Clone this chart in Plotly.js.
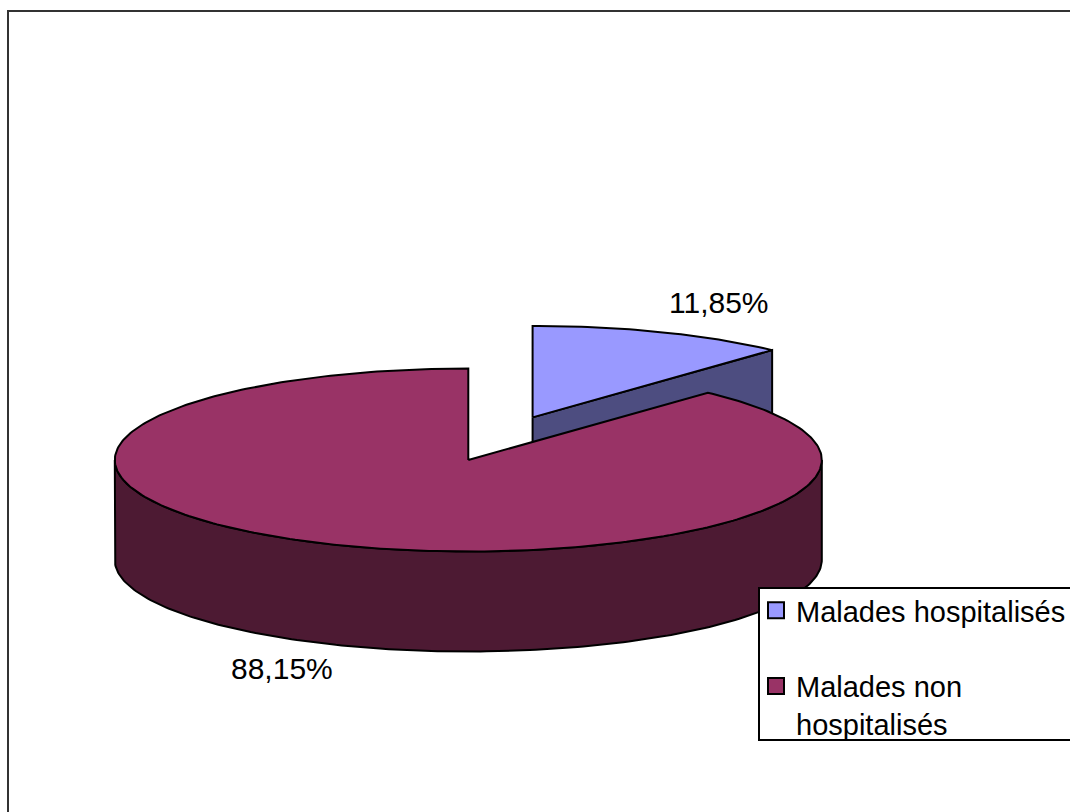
<!DOCTYPE html>
<html>
<head>
<meta charset="utf-8">
<script src="https://cdn.plot.ly/plotly-3.0.1.min.js"></script>
<style>
  html, body { margin: 0; padding: 0; background: #ffffff; }
  #chart { width: 1070px; height: 812px; }
</style>
</head>
<body>
<div id="chart"></div>
<script>
// Share of patients, hospitalised vs not
const categories = ['Malades hospitalisés', 'Malades non hospitalisés'];
const legendNames = ['Malades hospitalisés', 'Malades non<br>hospitalisés'];
const shares = [11.85, 88.15];
const shareLabels = ['11,85%', '88,15%'];

const topColors = ['#9999FF', '#993366'];
const sideColors = ['#4D4D80', '#4D1A33'];
const explode = [0.5, 0];

// Canvas and tilted-pie geometry (pixel units, y grows downward)
const W = 1070, H = 812;
const CX = 468.3, CY = 460, RX = 353.5, RY = 91.5, DEPTH = 100;
const START_ANGLE = 90;           // first slice starts at 12 o'clock, going clockwise
const FONT = 'Liberation Sans, Arial, sans-serif';
const FONT_SIZE = 30;
const LEGEND_FONT_SIZE = 29;

const rad = d => d * Math.PI / 180;

function pt(c, deg, dz) {
  return [c[0] + RX * Math.cos(rad(deg)), c[1] - RY * Math.sin(rad(deg)) + (dz || 0)];
}

function arc(c, a0, a1, dz) {
  const n = Math.max(2, Math.ceil(Math.abs(a1 - a0) / 1.0));
  const pts = [];
  for (let i = 0; i <= n; i++) pts.push(pt(c, a0 + (a1 - a0) * i / n, dz));
  return pts;
}

function polyTrace(pts, fill) {
  return {
    type: 'scatter', mode: 'lines',
    x: pts.map(p => p[0]), y: pts.map(p => p[1]),
    fill: 'toself', fillcolor: fill,
    line: { color: '#000000', width: 2, shape: 'linear' },
    hoverinfo: 'skip', showlegend: false
  };
}

const total = shares.reduce((a, b) => a + b, 0);
let cum = 0;
const slices = shares.map((v, i) => {
  const a0 = START_ANGLE - 360 * cum / total;
  const a1 = START_ANGLE - 360 * (cum + v) / total;
  cum += v;
  const mid = (a0 + a1) / 2;
  const c = [CX + explode[i] * RX * Math.cos(rad(mid)), CY - explode[i] * RY * Math.sin(rad(mid))];
  return { i, a0, a1, mid, c };
});

// paint slices from the back to the front
const order = slices.slice().sort((p, q) => Math.sin(rad(q.mid)) - Math.sin(rad(p.mid)));

const traces = [];
order.forEach(s => {
  const { i, a0, a1, c } = s;
  // radial wall at the end edge of the slice
  if (Math.cos(rad(a1)) > 1e-6) {
    const e = pt(c, a1, 0);
    traces.push(polyTrace([c, e, [e[0], e[1] + DEPTH], [c[0], c[1] + DEPTH], c], sideColors[i]));
  }
  // radial wall at the start edge of the slice
  if (Math.cos(rad(a0)) < -1e-6) {
    const e = pt(c, a0, 0);
    traces.push(polyTrace([c, e, [e[0], e[1] + DEPTH], [c[0], c[1] + DEPTH], c], sideColors[i]));
  }
  // curved outer wall, front half only
  for (let k = -1; k <= 1; k++) {
    const lo = Math.max(a1, -180 + 360 * k);
    const hi = Math.min(a0, 360 * k);
    if (hi > lo) {
      const wall = arc(c, hi, lo, 0).concat(arc(c, lo, hi, DEPTH));
      wall.push(wall[0]);
      traces.push(polyTrace(wall, sideColors[i]));
    }
  }
  // top face
  const top = [c].concat(arc(c, a0, a1, 0));
  top.push(c);
  traces.push(polyTrace(top, topColors[i]));
});

// legend keys
categories.forEach((name, i) => {
  traces.push({
    type: 'scatter', mode: 'markers', x: [null], y: [null],
    name: legendNames[i], legendgroup: 'g' + i,
    marker: { symbol: 'square', size: 16, color: topColors[i], line: { color: '#000000', width: 2 } },
    hoverinfo: 'skip', showlegend: true
  });
});

// value labels just outside each slice
const annotations = slices.map(s => {
  const front = Math.sin(rad(s.mid)) < 0;
  return {
    xref: 'x', yref: 'y',
    x: s.c[0] + RX * 1.45 * Math.cos(rad(s.mid)),
    y: s.c[1] - RY * 1.31 * Math.sin(rad(s.mid)) + (front ? DEPTH : 0),
    yshift: 3,
    text: shareLabels[s.i], showarrow: false,
    font: { family: FONT, size: FONT_SIZE, color: '#000000' }
  };
});

const layout = {
  width: W, height: H,
  margin: { l: 0, r: 0, t: 0, b: 0, pad: 0, autoexpand: false },
  paper_bgcolor: '#ffffff', plot_bgcolor: '#ffffff',
  xaxis: { range: [0, W], visible: false, fixedrange: true },
  yaxis: { range: [H, 0], visible: false, fixedrange: true },
  showlegend: true,
  legend: {
    x: 756 / W, y: 1 - 585 / H, xanchor: 'left', yanchor: 'top',
    bgcolor: 'rgba(0,0,0,0)', borderwidth: 0,
    font: { family: FONT, size: LEGEND_FONT_SIZE, color: '#000000' },
    traceorder: 'grouped', tracegroupgap: 35, valign: 'top'
  },
  shapes: [
    { // chart area frame
      type: 'rect', xref: 'x', yref: 'y', x0: 8, y0: 11, x1: W + 20, y1: H + 20,
      line: { color: '#333333', width: 2 }, fillcolor: 'rgba(0,0,0,0)', layer: 'below'
    },
    { // legend box
      type: 'rect', xref: 'x', yref: 'y', x0: 759, y0: 588, x1: W + 20, y1: 740,
      line: { color: '#000000', width: 2 }, fillcolor: '#ffffff', layer: 'above'
    }
  ],
  annotations: annotations
};

Plotly.newPlot('chart', traces, layout, { staticPlot: true, displayModeBar: false });
</script>
</body>
</html>
